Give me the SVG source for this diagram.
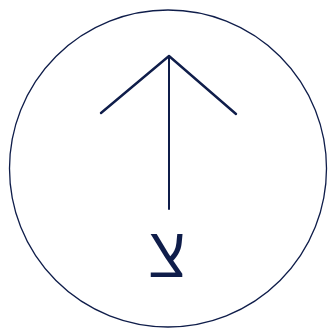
<svg xmlns="http://www.w3.org/2000/svg" width="331" height="330" viewBox="0 0 331 330">
<style>
.ln{fill:none;stroke:#0f1d4a;stroke-linecap:round;stroke-linejoin:round}
.lbl{font-family:"Open Sans","DejaVu Sans",sans-serif;fill:#0f1d4a}
</style>
<rect width="331" height="330" fill="#ffffff"/>
<g id="circle"><circle class="ln" cx="168" cy="168.5" r="158.5" stroke-width="1.3"/></g>
<g id="connectors">
<path class="ln" d="M169 56 V209" stroke-width="2"/>
<path class="ln" d="M101 113 L169 56 L236 114" stroke-width="2.4"/>
</g>
<g id="label"><text class="lbl" x="167" y="277" font-size="68" text-anchor="middle">צ</text></g>
</svg>
